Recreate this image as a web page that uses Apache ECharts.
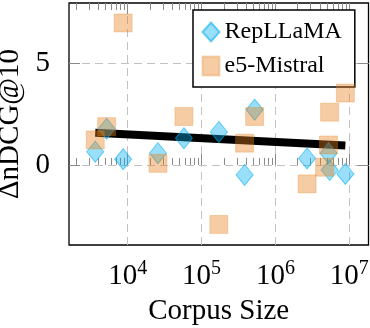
<!DOCTYPE html>
<html>
<head>
<meta charset="utf-8">
<script src="https://cdn.jsdelivr.net/npm/echarts@6/dist/echarts.min.js"></script>
<style>
html, body { margin: 0; padding: 0; background: #fff; }
#main { width: 370px; height: 328px; }
</style>
</head>
<body>
<div id="main"></div>
<script>
// data (corpus size, delta nDCG@10)
var replCorpus = [3633, 5183, 8674, 25657, 57638, 171332, 382545, 522931, 2681468, 5233329, 5416568, 8841823];
var replDelta  = [0.65, 1.78, 0.28, 0.58, 1.31, 1.62, -0.49, 2.71, 0.32, 0.58, -0.25, -0.44];
var e5Corpus = [3633, 5183, 8674, 25657, 57638, 171332, 382545, 522931, 2681468, 4635922, 5233329, 5416568, 8841823];
var e5Delta  = [1.23, 1.88, 6.97, 0.08, 2.38, -2.92, 1.07, 2.38, -0.93, -0.11, 0.98, 2.59, 3.53];
var trendCorpus = [3633, 8841823];
var trendDelta  = [1.58, 0.95];
var xTickExp = [4, 5, 6, 7];
var yTicks = [0, 5];

var FONT = 'Liberation Serif';
var xMin = 3.205, xMax = 7.26;
var yMin = -3.93, yMax = 7.95;

function pairs(xs, ys) {
    return xs.map(function (x, i) { return [Math.log10(x), ys[i]]; });
}

// minor ticks of the log axis: 2..9 x 10^n
var minorTicks = [];
for (var n = 3; n <= 7; n++) {
    for (var k = 2; k <= 9; k++) {
        var v = Math.log10(k * Math.pow(10, n));
        if (v > xMin && v < xMax) minorTicks.push(v);
    }
}

var tickStyle = { color: '#8a8a8a', width: 1 };
var gridLine = { color: '#c2c2c2', type: [8, 5], width: 1 };

// dashed grid at the major ticks
var gridMarks = xTickExp.map(function (e) { return { xAxis: e }; })
    .concat(yTicks.map(function (t) { return { yAxis: t }; }));

function xAx(pos, major, withLabels) {
    return {
        type: 'value', position: pos, min: xMin, max: xMax,
        axisLine: { show: false },
        axisTick: {
            show: true, inside: true, length: major ? 11 : 7,
            customValues: major ? xTickExp : minorTicks,
            lineStyle: tickStyle
        },
        axisLabel: withLabels ? {
            show: true, margin: 14,
            customValues: xTickExp,
            formatter: function (v) { return '{b|10}{s|' + v + '}'; },
            rich: {
                b: { fontFamily: FONT, fontSize: 29, color: '#000' },
                s: { fontFamily: FONT, fontSize: 20, color: '#000', padding: [0, 0, 14, 0] }
            }
        } : { show: false },
        splitLine: { show: false },
        name: withLabels ? 'Corpus Size' : '',
        nameLocation: 'middle', nameGap: 52,
        nameTextStyle: { fontFamily: FONT, fontSize: 29, color: '#000' }
    };
}

var myChart = echarts.init(document.getElementById('main'));
var option = {
    animation: false,
    grid: {
        left: 69, right: 1.5, top: 3, bottom: 83,
        outerBoundsMode: 'none',
        show: true, borderColor: '#000', borderWidth: 1.3,
        backgroundColor: 'transparent'
    },
    legend: {
        orient: 'vertical', left: 193, top: 10,
        padding: [10, 13, 9, 8.5],
        itemGap: 10, itemWidth: 17, itemHeight: 19, itemTextGap: 6,
        borderColor: '#000', borderWidth: 1.5, backgroundColor: '#fff',
        textStyle: { fontFamily: FONT, fontSize: 24, color: '#000' },
        data: ['RepLLaMA', 'e5-Mistral']
    },
    xAxis: [
        xAx('bottom', true, true),
        xAx('bottom', false, false),
        xAx('top', true, false),
        xAx('top', false, false)
    ],
    yAxis: [{
        type: 'value', position: 'left', min: yMin, max: yMax,
        axisLine: { show: false },
        axisTick: { show: true, inside: true, length: 11, customValues: yTicks, lineStyle: tickStyle },
        axisLabel: { show: true, margin: 19, customValues: yTicks, fontFamily: FONT, fontSize: 29, color: '#000' },
        splitLine: { show: false },
        name: 'ΔnDCG@10', nameLocation: 'middle', nameGap: 40, nameRotate: 90,
        nameTextStyle: { fontFamily: FONT, fontSize: 29, color: '#000' }
    }, {
        type: 'value', position: 'right', min: yMin, max: yMax,
        axisLine: { show: false },
        axisTick: { show: true, inside: true, length: 11, customValues: yTicks, lineStyle: tickStyle },
        axisLabel: { show: false },
        splitLine: { show: false }
    }],
    series: [{
        name: 'trend', type: 'line', z: 1,
        data: pairs(trendCorpus, trendDelta),
        showSymbol: false, symbol: 'none',
        lineStyle: { color: '#000', width: 8, cap: 'butt' },
        silent: true,
        markLine: {
            silent: true, symbol: 'none', z: 0,
            label: { show: false },
            lineStyle: gridLine,
            emphasis: { disabled: true },
            data: gridMarks
        }
    }, {
        name: 'RepLLaMA', type: 'scatter', z: 3,
        data: pairs(replCorpus, replDelta),
        symbol: 'diamond', symbolSize: [17, 21],
        itemStyle: { color: 'rgba(0,174,239,0.5)', borderColor: 'rgba(0,174,239,0.7)', borderWidth: 1 }
    }, {
        name: 'e5-Mistral', type: 'scatter', z: 4,
        data: pairs(e5Corpus, e5Delta),
        symbol: 'rect', symbolSize: 18,
        itemStyle: { color: 'rgba(231,127,25,0.5)', borderColor: 'rgba(231,127,25,0.35)', borderWidth: 1 }
    }]
};
myChart.setOption(option);
</script>
</body>
</html>
